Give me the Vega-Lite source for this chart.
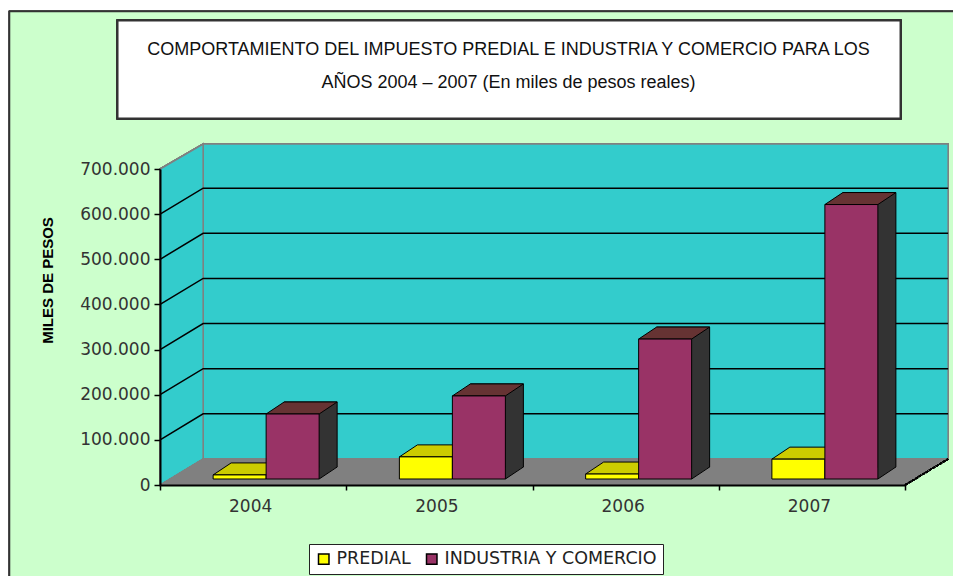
{"$schema":"https://vega.github.io/schema/vega-lite/v6.json","autosize":"none","width":745,"height":316,"padding":{"left":160,"top":169,"right":48,"bottom":91},"background":"#ffffff","view":{"stroke":null},"title":{"text":["COMPORTAMIENTO DEL IMPUESTO PREDIAL E INDUSTRIA Y COMERCIO PARA LOS","AÑOS 2004 – 2007   (En miles de pesos reales)"],"anchor":"middle","frame":"group","dx":-24,"offset":-83,"zindex":1,"font":"Liberation Sans","fontSize":18,"fontWeight":"normal","color":"#111111","lineHeight":33},"data":{"values":[{"year":"2004","series":"PREDIAL","value":9000},{"year":"2005","series":"PREDIAL","value":49000},{"year":"2006","series":"PREDIAL","value":11000},{"year":"2007","series":"PREDIAL","value":44000},{"year":"2004","series":"INDUSTRIA Y COMERCIO","value":144000},{"year":"2005","series":"INDUSTRIA Y COMERCIO","value":184000},{"year":"2006","series":"INDUSTRIA Y COMERCIO","value":310000},{"year":"2007","series":"INDUSTRIA Y COMERCIO","value":608000}]},"encoding":{"x":{"field":"year","type":"nominal","scale":{"type":"band","domain":["2004","2005","2006","2007"],"paddingInner":0,"paddingOuter":0},"axis":{"title":null,"labelAngle":0,"labelFont":"DejaVu Sans","labelFontSize":17,"labelColor":"#333333","labelOffset":-3,"labelPadding":8,"tickBand":"extent","tickColor":"#000000","tickSize":5,"tickWidth":1.5,"domainColor":"#000000","domainWidth":2,"grid":false,"zindex":1}},"y":{"field":"value","type":"quantitative","stack":null,"scale":{"domain":[0,700000],"nice":false},"axis":{"title":"MILES DE PESOS","titleFont":"Liberation Sans","titleFontWeight":"bold","titleFontSize":15,"titleColor":"#000000","titleX":-105,"titleY":111,"titleAngle":270,"titleAnchor":"middle","values":[0,100000,200000,300000,400000,500000,600000,700000],"labelExpr":"replace(format(datum.value,','),',','.')","labelFont":"DejaVu Sans","labelFontSize":17,"labelColor":"#333333","labelPadding":4,"tickColor":"#000000","tickSize":6,"tickWidth":1.5,"domainColor":"#000000","domainWidth":2,"grid":false,"zindex":1}}},"layer":[{"mark":{"type":"point","filled":true,"opacity":1,"size":4,"fill":"#CCFFCC","stroke":"#333333","strokeWidth":1.5,"shape":"M-243.6,150 L-243.6,-473.5 L750,-473.5 L750,150 Z"},"encoding":{"x":{"datum":"2004"},"y":{"datum":0}}},{"mark":{"type":"point","filled":true,"opacity":1,"size":4,"fill":"#FFFFFF","stroke":"#333333","strokeWidth":2,"shape":"M-135.6,-464.5 L647.4,-464.5 L647.4,-366.5 L-135.6,-366.5 Z"},"encoding":{"x":{"datum":"2004"},"y":{"datum":0}}},{"mark":{"type":"point","filled":true,"opacity":1,"size":4,"fill":"#33CCCC","stroke":"#808080","strokeWidth":1.5,"shape":"M-50,-341 L695,-341 L695,-26 L-50,-26 Z"},"encoding":{"x":{"datum":"2004"},"y":{"datum":0}}},{"mark":{"type":"point","filled":true,"opacity":1,"size":4,"fill":"#33CCCC","stroke":"#808080","strokeWidth":1.5,"shape":"M-93,0 L-50,-26 L-50,-341 L-93,-316 Z"},"encoding":{"x":{"datum":"2004"},"y":{"datum":0}}},{"mark":{"type":"point","filled":true,"opacity":1,"size":4,"fill":"#808080","stroke":"#808080","strokeWidth":1,"shape":"M-93,0 L652,0 L695,-26 L-50,-26 Z"},"encoding":{"x":{"datum":"2004"},"y":{"datum":0}}},{"mark":{"type":"point","filled":false,"opacity":1,"size":4,"stroke":"#000000","strokeWidth":1.5,"strokeDash":[3,1],"shape":"M652,0 L695,-26"},"encoding":{"x":{"datum":"2004"},"y":{"datum":0}}},{"data":{"values":[{"tick":100000},{"tick":200000},{"tick":300000},{"tick":400000},{"tick":500000},{"tick":600000}]},"mark":{"type":"point","filled":false,"opacity":1,"size":4,"stroke":"#000000","strokeWidth":1.5,"shape":"M-93,0 L-50,-26 L695,-26"},"encoding":{"x":{"datum":"2004"},"y":{"field":"tick","type":"quantitative"}}},{"transform":[{"filter":"datum.series==='PREDIAL'"}],"mark":{"type":"point","filled":true,"opacity":1,"size":4,"fill":"#CCCC00","stroke":"#000000","strokeWidth":1,"shape":"M-40,-6 L13,-6 L31,-18 L-22,-18 Z"},"encoding":{}},{"transform":[{"filter":"datum.series==='PREDIAL'"}],"mark":{"type":"bar","width":53,"xOffset":-13.5,"yOffset":-6,"y2Offset":-6,"stroke":"#000000","strokeWidth":1},"encoding":{"y2":{"datum":0},"color":{"field":"series","type":"nominal","scale":{"domain":["PREDIAL","INDUSTRIA Y COMERCIO"],"range":["#FFFF00","#993366"]},"legend":{"title":null,"orient":"none","legendX":149,"legendY":375,"direction":"horizontal","columns":2,"fillColor":"#FFFFFF","strokeColor":"#222222","padding":6,"symbolType":"square","symbolSize":110,"symbolStrokeColor":"#000000","symbolStrokeWidth":1.5,"symbolOpacity":1,"labelFont":"DejaVu Sans","labelFontSize":17.5,"labelColor":"#222222","labelLimit":260,"columnPadding":12,"labelOffset":4}}}},{"transform":[{"filter":"datum.series!=='PREDIAL'"}],"mark":{"type":"bar","width":53,"xOffset":57.5,"yOffset":-18,"y2Offset":-18,"fill":"#333333","stroke":"#000000","strokeWidth":1},"encoding":{"y2":{"datum":0}}},{"transform":[{"filter":"datum.series!=='PREDIAL'"}],"mark":{"type":"point","filled":true,"opacity":1,"size":4,"fill":"#333333","shape":"M66,-6 L83.5,-18 L83.5,-19 L66,-19 Z"},"encoding":{"y":{"datum":0}}},{"transform":[{"filter":"datum.series!=='PREDIAL'"}],"mark":{"type":"point","filled":false,"opacity":1,"size":4,"stroke":"#000000","strokeWidth":1,"shape":"M66,-6 L84,-18"},"encoding":{"y":{"datum":0}}},{"transform":[{"filter":"datum.series!=='PREDIAL'"}],"mark":{"type":"point","filled":true,"opacity":1,"size":4,"fill":"#663333","stroke":"#000000","strokeWidth":1,"shape":"M13,-6 L66,-6 L84,-18 L31,-18 Z"},"encoding":{}},{"transform":[{"filter":"datum.series!=='PREDIAL'"}],"mark":{"type":"bar","width":53,"xOffset":39.5,"yOffset":-6,"y2Offset":-6,"stroke":"#000000","strokeWidth":1},"encoding":{"y2":{"datum":0},"color":{"field":"series","type":"nominal"}}}]}
